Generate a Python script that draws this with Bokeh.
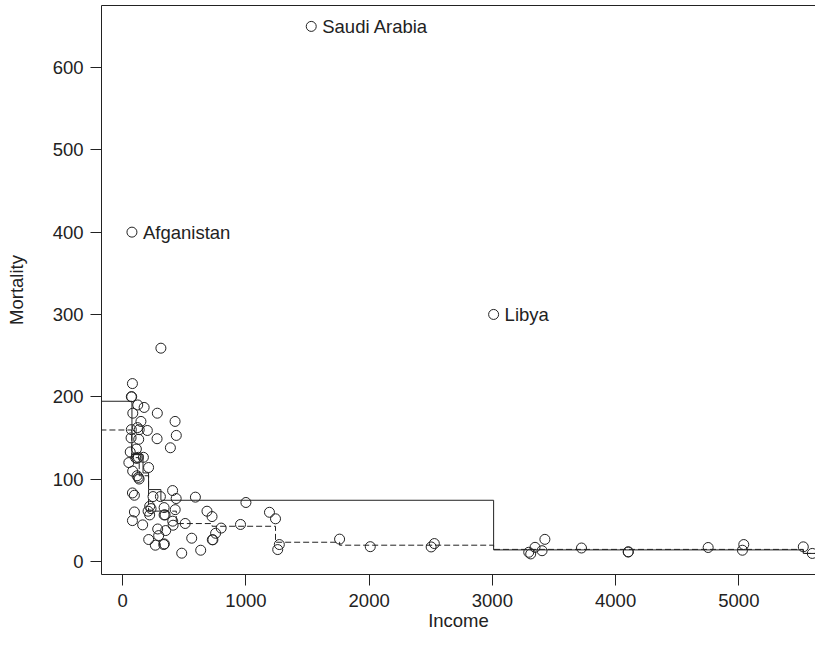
from bokeh.plotting import figure
from bokeh.models import ColumnDataSource, Range1d, LinearAxis, FixedTicker
from bokeh.embed import file_html
from bokeh.resources import INLINE
from bokeh.core.properties import value

# ---- data ----
income = [79, 70, 73, 122, 174, 281, 82, 425, 148, 435, 279, 387, 70, 134, 120, 200, 68, 130,
          61, 111, 106, 117, 127, 168, 210, 50, 81, 117, 127, 133, 79, 95, 405, 246, 306, 434,
          590, 1000, 95, 79, 206, 219, 230, 336, 336, 344, 426, 162, 219, 406, 409, 507, 684,
          725, 799, 754, 732, 727, 956, 284, 292, 349, 211, 265, 338, 333, 560, 479, 633, 75,
          1530, 3010, 310, 1191, 1240, 1271, 1258, 1760, 2009, 2503, 2529, 3295, 3311, 3346,
          3403, 3426, 3723, 4102, 4103, 4751, 5040, 5029, 5523, 5596]
mortality = [216, 200, 200, 190, 187, 180, 180, 170, 170, 153, 149, 138, 160, 160, 162.5, 159, 150,
             148.3, 132.9, 136.5, 125.6, 125.2, 126.4, 126.4, 114, 120, 109.6, 104, 102, 100, 83.1,
             80.3, 86, 78.7, 78.7, 76.3, 78, 71.5, 60, 49.5, 60.9, 66.9, 64.1, 65.3, 56.4, 56.4,
             62.8, 44.3, 56.4, 48.8, 43.9, 46, 60.9, 54.4, 40.4, 34.1, 26.2, 26.2, 44.8, 39.3,
             31.3, 37.4, 26.5, 19.6, 21.2, 20.4, 28.1, 9.9, 13.5, 400, 650, 300, 259, 59.6, 51.7,
             20.4, 14.3, 27, 17.8, 17.5, 21.6, 11, 9, 17, 12.9, 26.7, 16.2, 11.3, 11.6, 16.8,
             20.4, 13.5, 17.6, 9.6]

label_names = ["Saudi Arabia", "Afganistan", "Libya"]
label_income = [1530, 75, 3010]
label_mortality = [650, 400, 300]

# solid step fit: jump incomes and levels
solid_breaks = [-400, 75, 165, 210, 310, 3010, 5523, 7000]
solid_levels = [194.5, 129.7, 107.4, 87.2, 74.2, 13.9, 9.6]
# dashed step fit
dashed_breaks = [-400, 73, 134, 210, 435, 725, 1240, 1760, 3010, 5523, 7000]
dashed_levels = [159.6, 126, 104, 61, 45.9, 42.6, 23.2, 19.6, 14.5, 9.6]

x_ticks = [0, 1000, 2000, 3000, 4000, 5000]
y_ticks = [0, 100, 200, 300, 400, 500, 600]

FONT = "Liberation Sans"
INK = "#222222"
FS = "18.5px"

p = figure(width=815, height=633, output_backend="svg", toolbar_location=None,
           x_range=Range1d(-172, 5622), y_range=Range1d(-16, 675.4),
           min_border_left=101, min_border_right=0, min_border_top=5, min_border_bottom=58,
           x_axis_label="Income", y_axis_label="Mortality")
p.outline_line_color = None
p.grid.visible = False
p.background_fill_color = "white"
p.border_fill_color = "white"

for ax, ticks in ((p.xaxis[0], x_ticks), (p.yaxis[0], y_ticks)):
    ax.ticker = FixedTicker(ticks=ticks)
    ax.major_tick_out = 11
    ax.major_tick_in = 0
    ax.minor_tick_line_color = None
    ax.axis_line_color = INK
    ax.major_tick_line_color = INK
    ax.major_label_text_font = FONT
    ax.major_label_text_font_size = FS
    ax.major_label_text_color = INK
    ax.axis_label_text_font = FONT
    ax.axis_label_text_font_size = FS
    ax.axis_label_text_font_style = "normal"
    ax.axis_label_text_color = INK

p.xaxis[0].major_label_standoff = 8
p.xaxis[0].axis_label_standoff = 0
p.yaxis[0].major_label_standoff = 7
p.yaxis[0].axis_label_standoff = 23

top = LinearAxis(ticker=FixedTicker(ticks=[]), major_label_text_font_size="0px",
                 major_tick_out=0, major_tick_in=0, minor_tick_out=0, minor_tick_in=0,
                 major_label_standoff=0, axis_line_color=INK)
p.add_layout(top, "above")

def step_xy(breaks, levels):
    xs, ys = [], []
    for i, lv in enumerate(levels):
        xs += [breaks[i], breaks[i + 1]]
        ys += [lv, lv]
    return xs, ys

sx, sy = step_xy(solid_breaks, solid_levels)
p.line(sx, sy, line_color=INK, line_width=1)
dx, dy = step_xy(dashed_breaks, dashed_levels)
p.line(dx, dy, line_color=INK, line_width=1, line_dash="6 3")

src = ColumnDataSource(dict(income=income, mortality=mortality))
p.scatter(x="income", y="mortality", source=src, size=10, marker="circle",
          fill_color=None, line_color=INK, line_width=1)

p.text(x=label_income, y=label_mortality, text=label_names, x_offset=11,
       text_baseline="middle", text_align="left", text_font=value(FONT),
       text_font_size=FS, text_color=INK)

open("out.html", "w").write(file_html(p, INLINE))
